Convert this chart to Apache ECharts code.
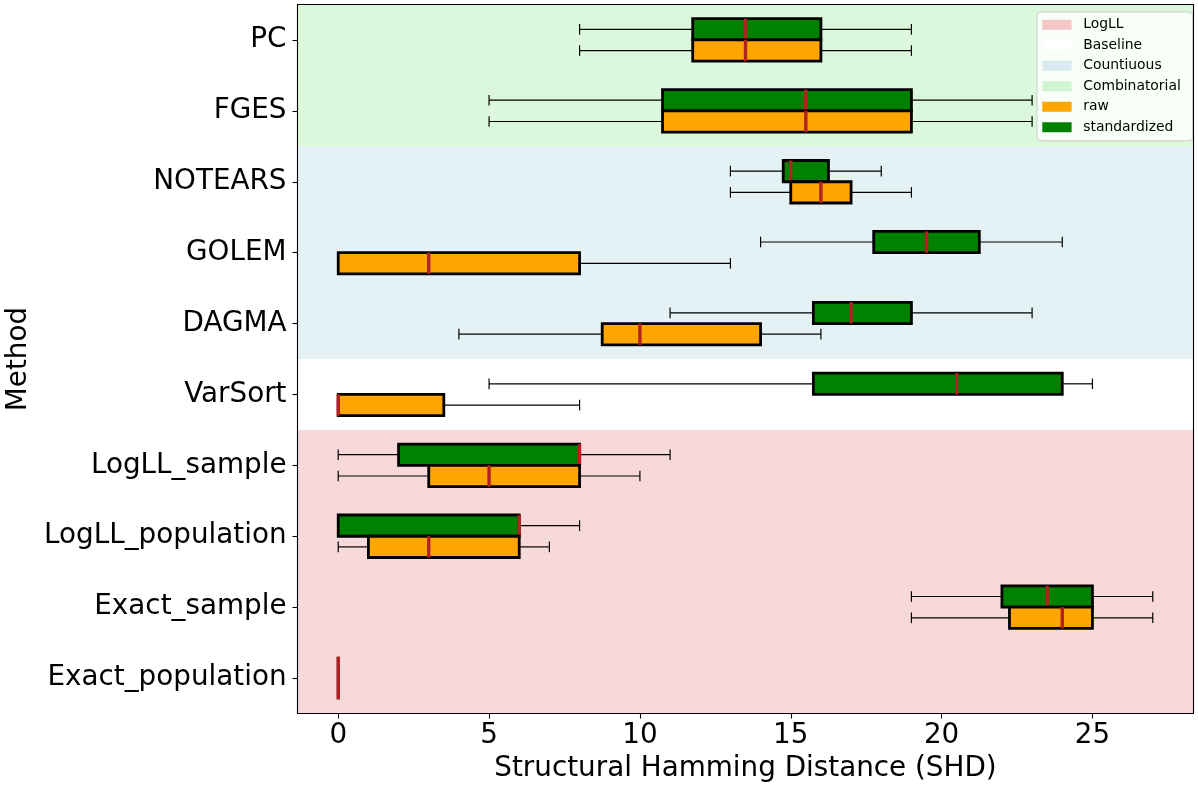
<!DOCTYPE html>
<html>
<head>
<meta charset="utf-8">
<script src="https://cdn.jsdelivr.net/npm/echarts@6/dist/echarts.min.js"></script>
<style>
html,body{margin:0;padding:0;background:#fff;}
#main{width:1198px;height:788px;}
</style>
</head>
<body>
<div id="main"></div>
<script>
// ---- data ----
const categories = ['PC','FGES','NOTEARS','GOLEM','DAGMA','VarSort','LogLL_sample','LogLL_population','Exact_sample','Exact_population'];
// [min, q1, median, q3, max]
const standardizedStats = [
  [8, 11.75, 13.5, 16, 19],
  [5, 10.75, 15.5, 19, 23],
  [13, 14.75, 15, 16.25, 18],
  [14, 17.75, 19.5, 21.25, 24],
  [11, 15.75, 17, 19, 23],
  [5, 15.75, 20.5, 24, 25],
  [0, 2, 8, 8, 11],
  [0, 0, 6, 6, 8],
  [19, 22, 23.5, 25, 27],
  [0, 0, 0, 0, 0]
];
const rawStats = [
  [8, 11.75, 13.5, 16, 19],
  [5, 10.75, 15.5, 19, 23],
  [13, 15, 16, 17, 19],
  [0, 0, 3, 8, 13],
  [4, 8.75, 10, 14, 16],
  [0, 0, 0, 3.5, 8],
  [0, 3, 5, 8, 10],
  [0, 1, 3, 6, 7],
  [19, 22.25, 24, 25, 27],
  [0, 0, 0, 0, 0]
];
const bandNames = ['LogLL','Baseline','Countiuous','Combinatorial'];
const bandFrom = ['LogLL_sample','VarSort','NOTEARS','PC'];
const bandTo = ['Exact_population','VarSort','DAGMA','FGES'];
const xTicks = [0, 5, 10, 15, 20, 25];

// ---- style ----
const FONT = 'DejaVu Sans';
const bandColors = ['#f8d9d9', '#ffffff', '#e4f2f6', '#dcf8dc'];
const bandLegendColors = ['#f5c6c6', '#ffffff', '#dbe9f0', '#d0f5d0'];
const rawColor = '#ffa500';
const stdColor = '#008000';
const medianColor = '#b22222';

const chart = echarts.init(document.getElementById('main'), null, {renderer: 'canvas'});

function bandSeries(i) {
  return {
    type: 'custom', name: bandNames[i], z: 1, silent: true,
    itemStyle: {color: bandLegendColors[i]},
    data: [[0, categories.indexOf(bandFrom[i]), categories.indexOf(bandTo[i])]],
    encode: {x: 0, y: [1, 2]},
    renderItem: function (params, api) {
      const a = api.coord([0, api.value(1)]);
      const b = api.coord([0, api.value(2)]);
      const bw = api.size([0, 1])[1];
      const cs = params.coordSys;
      const y1 = Math.min(a[1], b[1]) - bw / 2;
      const y2 = Math.max(a[1], b[1]) + bw / 2;
      return {type: 'rect', shape: {x: cs.x, y: y1, width: cs.width, height: y2 - y1}, style: {fill: bandColors[i]}};
    }
  };
}

function boxSeries(name, stats, color, side, z) {
  return {
    type: 'custom', name: name, z: z, silent: true,
    itemStyle: {color: color},
    data: categories.map((c, i) => [i].concat(stats[i])),
    encode: {y: 0, x: [1, 2, 3, 4, 5]},
    renderItem: function (params, api) {
      const idx = api.value(0);
      const vmin = api.value(1), q1 = api.value(2), med = api.value(3), q3 = api.value(4), vmax = api.value(5);
      const cy = api.coord([0, idx])[1];
      const bw = api.size([0, 1])[1];
      const h = 0.3 * bw;
      const top = side < 0 ? cy - h : cy;
      const mid = top + h / 2;
      const X = v => api.coord([v, idx])[0];
      const cap = 0.15 * bw / 2;
      const wStyle = {stroke: '#000', lineWidth: 1.2, fill: null};
      return {
        type: 'group',
        children: [
          {type: 'line', shape: {x1: X(vmin), y1: mid, x2: X(q1), y2: mid}, style: wStyle},
          {type: 'line', shape: {x1: X(q3), y1: mid, x2: X(vmax), y2: mid}, style: wStyle},
          {type: 'line', shape: {x1: X(vmin), y1: mid - cap, x2: X(vmin), y2: mid + cap}, style: wStyle},
          {type: 'line', shape: {x1: X(vmax), y1: mid - cap, x2: X(vmax), y2: mid + cap}, style: wStyle},
          {type: 'rect', shape: {x: X(q1), y: top, width: X(q3) - X(q1), height: h}, style: {fill: color, stroke: '#000', lineWidth: 2.8}},
          {type: 'line', shape: {x1: X(med), y1: top, x2: X(med), y2: top + h}, style: {stroke: medianColor, lineWidth: 3.4}}
        ]
      };
    }
  };
}

const series = bandNames.map((n, i) => bandSeries(i));
series.push(boxSeries('standardized', standardizedStats, stdColor, -1, 3));
series.push(boxSeries('raw', rawStats, rawColor, 1, 4));

const axisLineStyle = {color: '#000', width: 1.1};

const option = {
  animation: false,
  textStyle: {fontFamily: FONT},
  grid: {left: 297.5, right: 4.5, top: 4.5, bottom: 74.5, containLabel: false, outerBoundsMode: 'none'},
  legend: {
    orient: 'vertical', left: 1037, top: 12,
    padding: [5, 12, 5.8, 5.3],
    itemWidth: 29.3, itemHeight: 10, itemGap: 5,
    icon: 'rect', selectedMode: false,
    backgroundColor: 'rgba(255,255,255,0.8)', borderColor: '#cccccc', borderWidth: 1, borderRadius: 4,
    textStyle: {fontFamily: FONT, fontSize: 13.9, color: '#000', lineHeight: 15.5, padding: [0, 0, 0, 6.6]},
    data: [
      {name: 'LogLL', itemStyle: {color: bandLegendColors[0], borderWidth: 0}},
      {name: 'Baseline', itemStyle: {color: bandLegendColors[1], borderWidth: 0}},
      {name: 'Countiuous', itemStyle: {color: bandLegendColors[2], borderWidth: 0}},
      {name: 'Combinatorial', itemStyle: {color: bandLegendColors[3], borderWidth: 0}},
      {name: 'raw', itemStyle: {color: rawColor, borderWidth: 0}},
      {name: 'standardized', itemStyle: {color: stdColor, borderWidth: 0}}
    ]
  },
  xAxis: [
    {
      type: 'value', min: -1.35, max: 28.35, position: 'bottom', z: 10,
      splitLine: {show: false},
      axisLine: {show: true, onZero: false, lineStyle: axisLineStyle},
      axisTick: {show: true, customValues: xTicks, length: 5, lineStyle: axisLineStyle},
      axisLabel: {customValues: xTicks, fontSize: 27.8, color: '#000', fontFamily: FONT, margin: 8},
      name: 'Structural Hamming Distance (SHD)', nameLocation: 'middle', nameGap: 38,
      nameTextStyle: {fontSize: 27.8, color: '#000', fontFamily: FONT}
    },
    {
      type: 'value', min: -1.35, max: 28.35, position: 'top', z: 10,
      splitLine: {show: false},
      axisLine: {show: true, onZero: false, lineStyle: axisLineStyle},
      axisTick: {show: false}, axisLabel: {show: false}
    }
  ],
  yAxis: [
    {
      type: 'category', data: categories, inverse: true, z: 10,
      axisLine: {show: true, onZero: false, lineStyle: axisLineStyle},
      axisTick: {show: true, alignWithLabel: true, length: 5, lineStyle: axisLineStyle},
      axisLabel: {fontSize: 27.8, color: '#000', fontFamily: FONT, margin: 11, padding: [10, 0, 0, 0]},
      splitLine: {show: false},
      name: 'Method', nameLocation: 'middle', nameRotate: 90, nameGap: 254,
      nameTextStyle: {fontSize: 27.8, color: '#000', fontFamily: FONT}
    },
    {
      type: 'category', data: categories, inverse: true, position: 'right', z: 10,
      axisLine: {show: true, onZero: false, lineStyle: axisLineStyle},
      axisTick: {show: false}, axisLabel: {show: false}, splitLine: {show: false}
    }
  ],
  series: series
};
chart.setOption(option);
</script>
</body>
</html>
